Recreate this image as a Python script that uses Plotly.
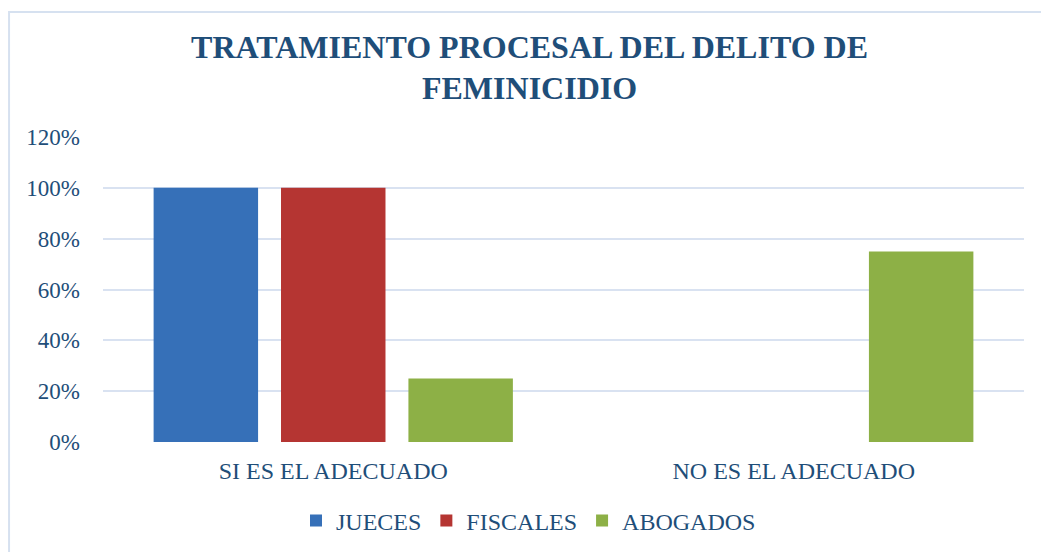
import plotly.graph_objects as go

categories = ["SI ES EL ADECUADO", "NO ES EL ADECUADO"]
jueces = [1.00, 0.0]
fiscales = [1.00, 0.0]
abogados = [0.25, 0.75]
tick_vals = [0, 0.2, 0.4, 0.6, 0.8, 1.0, 1.2]
tick_text = ["0%", "20%", "40%", "60%", "80%", "100%", "120%"]

TXT = "#1F4E79"
GRID = "#D9E2F1"
FONT = "Liberation Serif"

fig = go.Figure()
fig.add_trace(go.Bar(x=categories, y=jueces, name="JUECES",
                     marker=dict(color="#3670B8", line=dict(width=0))))
fig.add_trace(go.Bar(x=categories, y=fiscales, name="FISCALES",
                     marker=dict(color="#B53532", line=dict(width=0))))
fig.add_trace(go.Bar(x=categories, y=abogados, name="ABOGADOS",
                     marker=dict(color="#8DB046", line=dict(width=0))))

# page body has an 8px margin, so the figure is a bit smaller than the window
fig.update_layout(
    width=1041, height=544,
    margin=dict(l=95, r=25, t=129, b=110, autoexpand=False),
    paper_bgcolor="white", plot_bgcolor="white",
    font=dict(family=FONT, size=24, color=TXT),
    barmode="group", bargap=0.17, bargroupgap=0.18,
    title=dict(
        text="<b>TRATAMIENTO PROCESAL DEL DELITO DE<br>FEMINICIDIO</b>",
        font=dict(family=FONT, size=32, color=TXT),
        x=0.501, xref="container", xanchor="center",
        y=0.909, yref="container", yanchor="top",
    ),
    showlegend=True,
    legend=dict(orientation="h", x=0.462, xanchor="center",
                y=0.057, yref="container", yanchor="middle",
                font=dict(size=24, color=TXT),
                itemwidth=30, traceorder="normal"),
    shapes=[dict(type="rect", xref="paper", yref="paper",
                 x0=-0.102, x1=1.03, y0=-0.37, y1=1.41,
                 line=dict(color="#D6E1F0", width=2), layer="below")],
)
fig.update_yaxes(range=[0, 1.2], tickvals=tick_vals, ticktext=tick_text,
                 tickfont=dict(size=23),
                 gridcolor=GRID, gridwidth=2, zeroline=False, showline=False,
                 ticks="", ticklabelstandoff=22)
fig.update_xaxes(showline=False, ticks="", showgrid=False, ticklabelstandoff=12)

fig.write_html("out.html")
